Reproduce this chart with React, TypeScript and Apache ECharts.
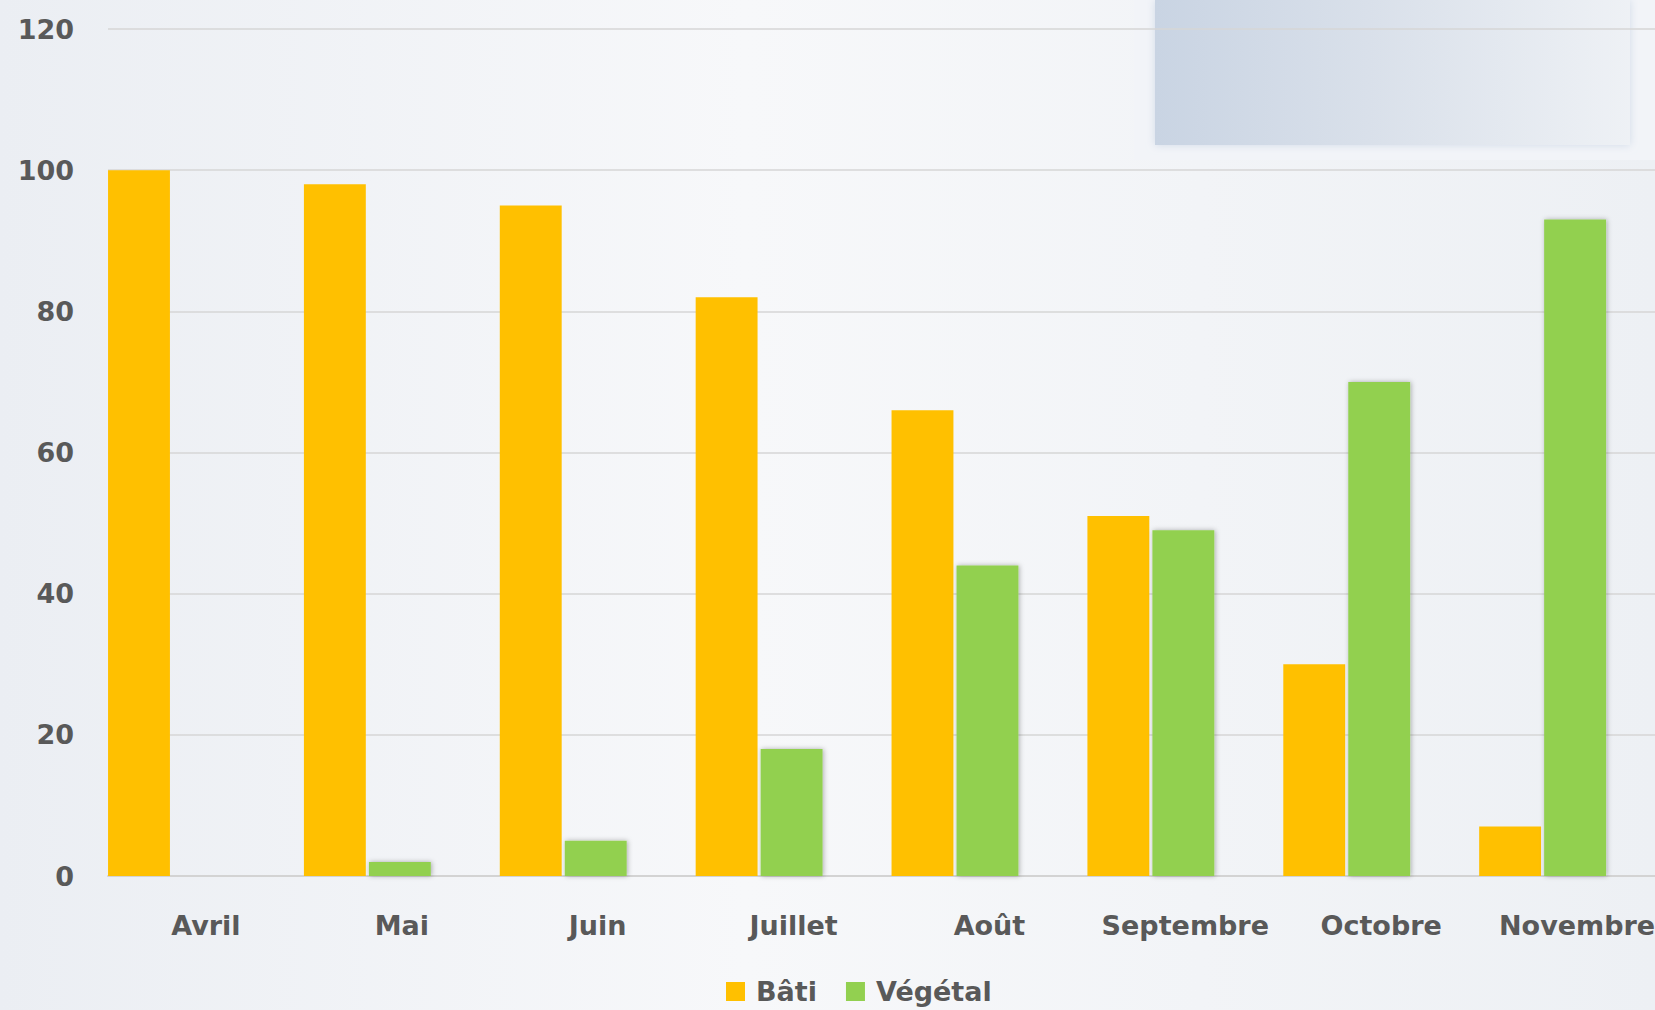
import React, { useEffect, useRef } from "react";
import * as echarts from "echarts";

const categories = ["Avril", "Mai", "Juin", "Juillet", "Août", "Septembre", "Octobre", "Novembre"];
const batiValues = [100, 98, 95, 82, 66, 51, 30, 7];
const vegetalValues = [0, 2, 5, 18, 44, 49, 70, 93];
const spacerValues = [0, 0, 0, 0, 0, 0, 0, 0];
const seriesNames = ["Bâti", "Végétal"];

const FONT = "'Comic Sans MS', 'DejaVu Sans', sans-serif";
const TEXT_COLOR = "#595959";

export default function App() {
  const ref = useRef<HTMLDivElement>(null);
  useEffect(() => {
    if (!ref.current) return;
    const chart = echarts.init(ref.current, null, { renderer: "svg" });
    chart.setOption({
      animation: false,
      graphic: [
        {
          type: "rect",
          z: -100,
          shape: { x: 0, y: 0, width: 1655, height: 1010 },
          style: {
            fill: new echarts.graphic.LinearGradient(0, 0, 1, 0, [
              { offset: 0, color: "#EBEEF3" },
              { offset: 0.45, color: "#F7F8FA" },
              { offset: 1, color: "#EDF0F4" },
            ]),
          },
        },
        {
          type: "rect",
          z: -90,
          shape: { x: 1134, y: 0, width: 521, height: 160 },
          style: { fill: "#F2F4F8" },
        },
        {
          type: "rect",
          z: -80,
          shape: { x: 1155, y: 0, width: 475, height: 145 },
          style: {
            fill: new echarts.graphic.LinearGradient(0, 0, 1, 0, [
              { offset: 0, color: "#C9D4E3" },
              { offset: 0.45, color: "#D9E0EA" },
              { offset: 1, color: "#EEF1F5" },
            ]),
            shadowBlur: 8,
            shadowColor: "rgba(200,212,228,0.8)",
          },
        },
      ],
      grid: {
        left: 108,
        width: 1567,
        top: 29,
        bottom: 134,
        containLabel: false,
        outerBoundsMode: "none",
      },
      legend: {
        data: seriesNames,
        left: 726,
        top: 978,
        padding: 0,
        itemWidth: 19,
        itemHeight: 19,
        itemGap: 29,
        icon: "rect",
        textStyle: {
          fontFamily: FONT,
          fontWeight: "bold",
          fontSize: 27,
          color: TEXT_COLOR,
          padding: [0, 0, 0, 6],
        },
      },
      xAxis: {
        type: "category",
        data: categories,
        axisLine: { show: true, lineStyle: { color: "#D3D3D3", width: 2 } },
        axisTick: { show: false },
        axisLabel: {
          interval: 0,
          margin: 36,
          fontFamily: FONT,
          fontWeight: "bold",
          fontSize: 27,
          color: TEXT_COLOR,
          hideOverlap: false,
        },
      },
      yAxis: {
        type: "value",
        min: 0,
        max: 120,
        interval: 20,
        axisLine: { show: false },
        axisTick: { show: false },
        splitLine: { lineStyle: { color: "#D6D6D6", width: 1.5 } },
        axisLabel: {
          margin: 34,
          fontFamily: FONT,
          fontWeight: "bold",
          fontSize: 27,
          color: TEXT_COLOR,
        },
      },
      series: [
        {
          name: seriesNames[0],
          type: "bar",
          data: batiValues,
          barWidth: "31.6%",
          barGap: "5%",
          itemStyle: { color: "#FFC000" },
        },
        {
          name: seriesNames[1],
          type: "bar",
          data: vegetalValues,
          barWidth: "31.6%",
          barGap: "5%",
          itemStyle: {
            color: "#92D050",
            shadowBlur: 5,
            shadowColor: "rgba(0,0,0,0.3)",
            shadowOffsetX: 1,
            shadowOffsetY: 0,
          },
        },
        {
          name: "spacer",
          type: "bar",
          data: spacerValues,
          barWidth: "33.6%",
          barGap: "5%",
          itemStyle: { color: "rgba(0,0,0,0)" },
          silent: true,
        },
      ],
    });
    return () => chart.dispose();
  }, []);
  return (
    <div
      ref={ref}
      style={{ position: "absolute", left: 0, top: 0, width: 1655, height: 1010 }}
    />
  );
}
